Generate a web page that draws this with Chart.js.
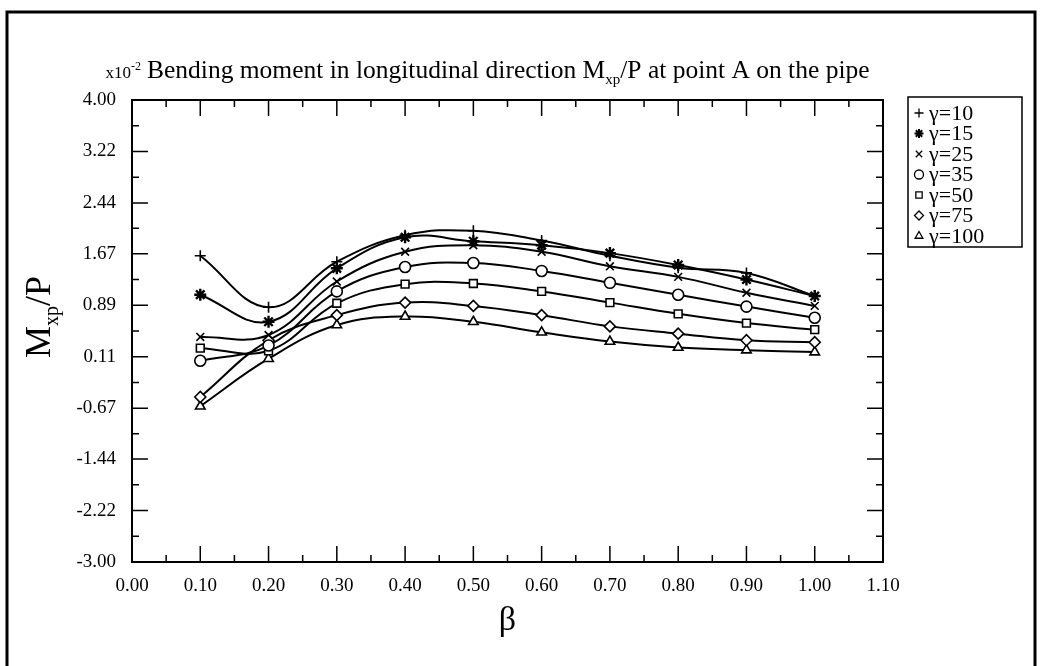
<!DOCTYPE html>
<html>
<head>
<meta charset="utf-8">
<script src="https://cdn.jsdelivr.net/npm/chart.js@4.4.0/dist/chart.umd.min.js"></script>
<style>
  html, body { margin: 0; padding: 0; background: #fff; }
  #wrap { width: 1041px; height: 666px; position: relative; }
</style>
</head>
<body>
<div id="wrap"><canvas id="chart"></canvas></div>
<script>
// beta values on the x axis
const betas = [0.1, 0.2, 0.3, 0.4, 0.5, 0.6, 0.7, 0.8, 0.9, 1.0];

// Mxp/P (x10^-2)
const gamma10  = [1.64, 0.86, 1.55, 1.95, 2.02, 1.87, 1.64, 1.46, 1.38, 1.03];
const gamma15  = [1.05, 0.64, 1.45, 1.92, 1.86, 1.80, 1.68, 1.50, 1.28, 1.03];
const gamma25  = [0.41, 0.44, 1.25, 1.70, 1.80, 1.70, 1.48, 1.32, 1.08, 0.88];
const gamma35  = [0.05, 0.28, 1.10, 1.47, 1.53, 1.41, 1.23, 1.05, 0.87, 0.70];
const gamma50  = [0.24, 0.20, 0.92, 1.21, 1.22, 1.10, 0.93, 0.76, 0.62, 0.52];
const gamma75  = [-0.50, 0.36, 0.74, 0.93, 0.88, 0.74, 0.57, 0.46, 0.36, 0.33];
const gamma100 = [-0.64, 0.08, 0.59, 0.72, 0.64, 0.48, 0.34, 0.25, 0.21, 0.18];

const seriesLabels = ['γ=10', 'γ=15', 'γ=25', 'γ=35', 'γ=50', 'γ=75', 'γ=100'];
const seriesValues = [gamma10, gamma15, gamma25, gamma35, gamma50, gamma75, gamma100];
const markers = ['cross', 'star', 'crossRot', 'circle', 'rect', 'rectRot', 'triangle'];

const xTickLabels = ['0.00', '0.10', '0.20', '0.30', '0.40', '0.50', '0.60', '0.70', '0.80', '0.90', '1.00', '1.10'];
const yTickLabels = ['-3.00', '-2.22', '-1.44', '-0.67', '0.11', '0.89', '1.67', '2.44', '3.22', '4.00'];

const SERIF = "'Liberation Serif', 'DejaVu Serif', serif";

const datasets = seriesValues.map((vals, i) => ({
  label: seriesLabels[i],
  data: betas.map((b, j) => ({ x: b, y: vals[j] })),
  showLine: true,
  tension: 0.4,
  borderColor: '#000',
  backgroundColor: '#fff',
  borderWidth: 2,
  pointStyle: markers[i],
  pointRadius: markers[i] === 'star' ? 6 : 5.5,
  pointBorderWidth: markers[i] === 'star' ? 2.4 : 1.6,
  pointBorderColor: '#000',
  pointBackgroundColor: '#fff'
}));

// draws text pieces one after another (for subscripts / superscripts)
function richWidth(ctx, parts) {
  let w = 0;
  parts.forEach(p => { ctx.font = p.size + 'px ' + SERIF; w += ctx.measureText(p.t).width; });
  return w;
}
function drawRich(ctx, parts, x, y) {
  parts.forEach(p => {
    ctx.font = p.size + 'px ' + SERIF;
    ctx.fillText(p.t, x, y + (p.dy || 0));
    x += ctx.measureText(p.t).width;
  });
}

const decor = {
  id: 'decor',
  afterDraw(chart) {
    const ctx = chart.ctx;
    const a = chart.chartArea;
    const xs = chart.scales.x, ys = chart.scales.y;
    ctx.save();
    ctx.strokeStyle = '#000';
    ctx.fillStyle = '#000';

    // plot frame
    ctx.lineWidth = 2;
    ctx.strokeRect(a.left, a.top, a.right - a.left, a.bottom - a.top);

    // inward ticks, major and minor, on all four sides
    const major = 16, minor = 7;
    ctx.lineWidth = 1.5;
    ctx.beginPath();
    const xp = xTickLabels.map(t => xs.getPixelForValue(parseFloat(t)));
    xp.forEach((px, i) => {
      ctx.moveTo(px, a.bottom); ctx.lineTo(px, a.bottom - major);
      ctx.moveTo(px, a.top); ctx.lineTo(px, a.top + major);
      if (i < xp.length - 1) {
        const m = (px + xp[i + 1]) / 2;
        ctx.moveTo(m, a.bottom); ctx.lineTo(m, a.bottom - minor);
        ctx.moveTo(m, a.top); ctx.lineTo(m, a.top + minor);
      }
    });
    const yp = yTickLabels.map(t => ys.getPixelForValue(parseFloat(t)));
    yp.forEach((py, i) => {
      ctx.moveTo(a.left, py); ctx.lineTo(a.left + major, py);
      ctx.moveTo(a.right, py); ctx.lineTo(a.right - major, py);
      if (i < yp.length - 1) {
        const m = (py + yp[i + 1]) / 2;
        ctx.moveTo(a.left, m); ctx.lineTo(a.left + minor, m);
        ctx.moveTo(a.right, m); ctx.lineTo(a.right - minor, m);
      }
    });
    ctx.stroke();

    // title
    ctx.textBaseline = 'alphabetic';
    ctx.textAlign = 'left';
    drawRich(ctx, [
      { t: 'Bending moment in longitudinal direction M', size: 25.5 },
      { t: 'xp', size: 15, dy: 6 },
      { t: '/P at point A on the pipe', size: 25.5 }
    ], 147, 78);
    const expParts = [{ t: 'x10', size: 17 }, { t: '-2', size: 12, dy: -8 }];
    drawRich(ctx, expParts, 141 - richWidth(ctx, expParts), 78);

    // y axis title, rotated
    const yParts = [
      { t: 'M', size: 36 },
      { t: 'xp', size: 20, dy: 8 },
      { t: '/P', size: 36 }
    ];
    ctx.save();
    ctx.translate(50, 317);
    ctx.rotate(-Math.PI / 2);
    drawRich(ctx, yParts, -richWidth(ctx, yParts) / 2, 0);
    ctx.restore();

    // x axis title
    ctx.font = '34px ' + SERIF;
    ctx.textAlign = 'center';
    ctx.fillText('β', (a.left + a.right) / 2, 630);

    // legend box
    const lx = 908, ly = 97, lw = 114, lh = 150;
    ctx.lineWidth = 1.5;
    ctx.strokeRect(lx, ly, lw, lh);
    ctx.textAlign = 'left';
    ctx.textBaseline = 'middle';
    ctx.font = '22px ' + SERIF;
    seriesLabels.forEach((lab, i) => {
      const cy = ly + 16 + i * 20.5;
      ctx.fillStyle = '#fff';
      ctx.strokeStyle = '#000';
      ctx.lineWidth = markers[i] === 'star' ? 2 : 1.3;
      Chart.helpers.drawPoint(ctx, { pointStyle: markers[i], radius: 4.5, rotation: 0, borderWidth: 1 }, lx + 11, cy);
      ctx.fillStyle = '#000';
      ctx.fillText(lab, lx + 21, cy + 1);
    });

    // outer page frame
    ctx.lineWidth = 3;
    ctx.beginPath();
    ctx.moveTo(7, 666); ctx.lineTo(7, 12); ctx.lineTo(1035, 12); ctx.lineTo(1035, 666);
    ctx.stroke();
    ctx.restore();
  }
};

new Chart(document.getElementById('chart'), {
  type: 'scatter',
  data: { datasets: datasets },
  options: {
    responsive: true,
    maintainAspectRatio: false,
    animation: false,
    layout: { padding: { top: 100, right: 158, left: 0, bottom: 0 } },
    plugins: {
      legend: { display: false },
      tooltip: { enabled: false },
      title: { display: false }
    },
    scales: {
      x: {
        type: 'linear',
        min: 0,
        max: 1.1,
        afterBuildTicks: s => { s.ticks = xTickLabels.map(t => ({ value: parseFloat(t) })); },
        afterFit: s => { s.height = 104; },
        ticks: {
          callback: (v, i) => xTickLabels[i],
          autoSkip: false,
          maxRotation: 0,
          padding: 13,
          color: '#000',
          font: { family: SERIF, size: 19 }
        },
        grid: { display: false, drawTicks: false },
        border: { display: false }
      },
      y: {
        type: 'linear',
        min: -3,
        max: 4,
        afterBuildTicks: s => { s.ticks = yTickLabels.map(t => ({ value: parseFloat(t) })); },
        afterFit: s => { s.width = 132; },
        ticks: {
          callback: (v, i) => yTickLabels[i],
          autoSkip: false,
          padding: 16,
          color: '#000',
          font: { family: SERIF, size: 19 }
        },
        grid: { display: false, drawTicks: false },
        border: { display: false }
      }
    }
  },
  plugins: [decor]
});
</script>
</body>
</html>
